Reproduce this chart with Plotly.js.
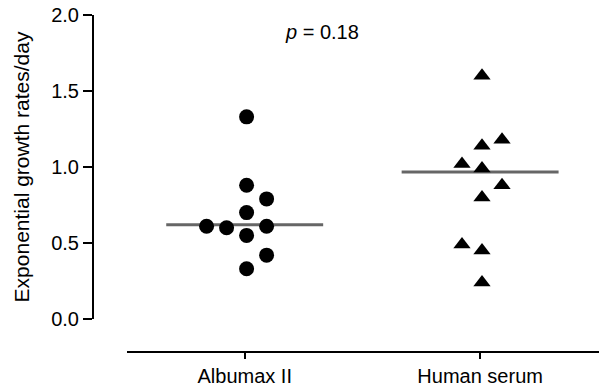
<!DOCTYPE html>
<html>
<head>
<meta charset="utf-8">
<script src="https://cdn.plot.ly/plotly-3.0.1.min.js"></script>
<style>html,body{margin:0;padding:0;background:#fff;}#chart{width:599px;height:388px;}</style>
</head>
<body>
<div id="chart"></div>
<script>
// ---- data ----
var categories = ["Albumax II", "Human serum"];
var albumaxValues = [1.33, 0.88, 0.79, 0.70, 0.61, 0.60, 0.61, 0.55, 0.42, 0.33];
var albumaxSlots  = [0, 0, 1, 0, -2, -1, 1, 0, 1, 0];   // dot-plot column of each point
var humanValues   = [1.60, 1.18, 1.14, 1.02, 0.99, 0.88, 0.80, 0.49, 0.45, 0.24];
var humanSlots    = [0, 1, 0, -1, 0, 1, 0, -1, 0, 0];
var medians       = [0.62, 0.967];
var yTicks        = [0, 0.5, 1.0, 1.5, 2.0];
var pLabel        = "<i>p</i> = 0.18";

// ---- drawing ----
var slotStep = 0.085;
var FONT = "Liberation Sans, Arial, sans-serif";

function xs(catIndex, slots) { return slots.map(function (s) { return catIndex + 0.008 + s * slotStep; }); }

var traces = [];
medians.forEach(function (m, i) {
  traces.push({ type: "scatter", mode: "lines", x: [i - 1/3, i + 1/3], y: [m, m],
    line: { color: "#666666", width: 3 }, hoverinfo: "skip" });
});
traces.push({ type: "scatter", mode: "markers", x: xs(0, albumaxSlots), y: albumaxValues,
    marker: { symbol: "circle", size: 15, color: "#000" }, cliponaxis: false, hoverinfo: "skip" });
traces.push({ type: "scatter", mode: "markers", x: xs(1, humanSlots), y: humanValues,
    marker: { symbol: "triangle-up", size: 15, color: "#000" }, cliponaxis: false, hoverinfo: "skip" });

var layout = {
  width: 599, height: 388,
  margin: { l: 93, r: 0, t: 15, b: 36 },
  paper_bgcolor: "#fff", plot_bgcolor: "rgba(0,0,0,0)",
  showlegend: false,
  font: { family: FONT, size: 20, color: "#000" },
  xaxis: {
    domain: [0.0672, 1], range: [-0.5, 1.505],
    anchor: "free", position: 0,
    tickmode: "array", tickvals: [0, 1], ticktext: categories,
    showline: true, linecolor: "#000", linewidth: 2,
    ticks: "outside", ticklen: 6, tickwidth: 2, tickcolor: "#000",
    showgrid: false, zeroline: false, fixedrange: true,
    tickfont: { family: FONT, size: 20, color: "#000" }
  },
  yaxis: {
    domain: [0.098, 1], range: [0, 2],
    anchor: "free", position: 0,
    tickmode: "array", tickvals: yTicks, tickformat: ".1f",
    showline: true, linecolor: "#000", linewidth: 2,
    ticks: "outside", ticklen: 9, tickwidth: 2, tickcolor: "#000",
    showgrid: false, zeroline: false, fixedrange: true,
    tickfont: { family: FONT, size: 20, color: "#000" },
    title: { text: "Exponential growth rates/day", font: { family: FONT, size: 21, color: "#000" }, standoff: 15 }
  },
  annotations: [{
    text: pLabel, xref: "paper", yref: "paper", x: 0.4516, y: 0.9496,
    xanchor: "center", yanchor: "middle", showarrow: false,
    font: { family: FONT, size: 20, color: "#000" }
  }]
};

Plotly.newPlot("chart", traces, layout, { displayModeBar: false, staticPlot: true });
</script>
</body>
</html>
